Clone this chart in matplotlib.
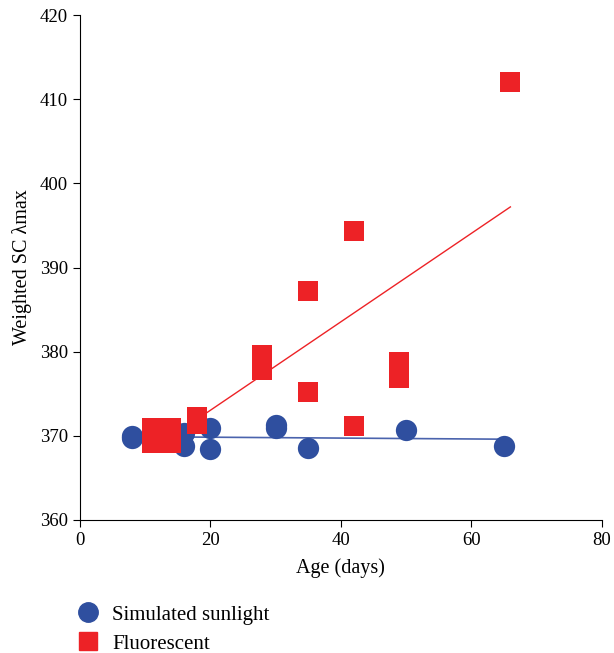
import numpy as np
import matplotlib.pyplot as plt
from matplotlib.lines import Line2D

plt.rcParams["font.family"] = ["Liberation Serif", "DejaVu Serif"]

# simulated sunlight
sun_age = [8, 8, 16, 16, 20, 20, 30, 30, 35, 50, 65]
sun_lmax = [370.0, 369.7, 370.3, 368.8, 370.9, 368.4, 371.3, 370.9, 368.6, 370.7, 368.8]
sun_fit_age = [8, 65]
sun_fit_lmax = [369.9, 369.6]

# fluorescent
flu_age = [11, 11, 14, 14, 18, 18, 28, 28, 35, 35, 42, 42, 49, 49, 66]
flu_lmax = [370.9, 369.2, 370.9, 369.2, 372.2, 371.4, 379.6, 377.8, 387.2, 375.2,
            394.3, 371.2, 378.8, 376.9, 412.0]
flu_fit_age = [11, 66]
flu_fit_lmax = [368.3, 397.2]

blue = "#2f4f9f"
red = "#ed2226"

fig = plt.figure(figsize=(6.14, 6.53), dpi=100)
ax = fig.add_axes([0.130, 0.2037, 0.850, 0.7733])

ax.plot(sun_fit_age, sun_fit_lmax, color="#4a63ad", lw=1.2, zorder=2)
ax.plot(flu_fit_age, flu_fit_lmax, color=red, lw=1.0, zorder=2)
ax.scatter(sun_age, sun_lmax, s=235, marker="o", color=blue, lw=0, zorder=3)
ax.scatter(flu_age, flu_lmax, s=215, marker="s", color=red, lw=0, zorder=4)

ax.set_xlim(0, 80)
ax.set_ylim(360, 420)
ax.set_xticks(np.arange(0, 81, 20))
ax.set_yticks(np.arange(360, 421, 10))
for s in ["top", "right"]:
    ax.spines[s].set_visible(False)
ax.tick_params(direction="out", length=5, labelsize=13.5)
ax.set_xlabel("Age (days)", fontsize=14.5, labelpad=7)
ax.set_ylabel("Weighted SC \u03bbmax", fontsize=14.5, labelpad=6)

handles = [
    Line2D([], [], marker="o", color=blue, ls="", markersize=14),
    Line2D([], [], marker="s", color=red, ls="", markersize=13),
]
fig.legend(handles, ["Simulated sunlight", "Fluorescent"],
           loc="upper left", bbox_to_anchor=(0.11, 0.086),
           frameon=False, fontsize=15, handletextpad=0.55,
           labelspacing=0.45, handlelength=1.2, borderaxespad=0)

plt.savefig("out.png")
